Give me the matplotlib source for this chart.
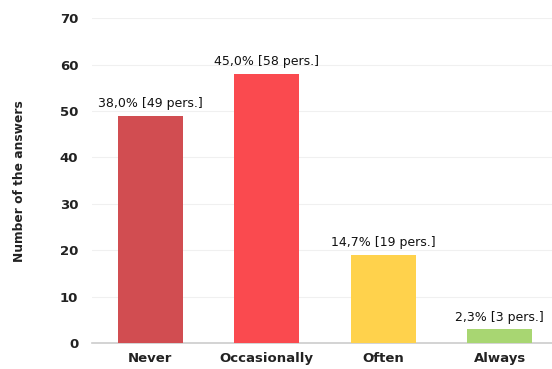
import matplotlib
matplotlib.use("Agg")
import matplotlib.pyplot as plt

categorias = ["Never", "Occasionally", "Often", "Always"]
personas = [49, 58, 19, 3]
porcentajes = ["38,0%", "45,0%", "14,7%", "2,3%"]
colores = ["#d14d51", "#fa4a4f", "#ffd24c", "#a8d672"]

plt.rcParams["font.family"] = ["DejaVu Sans"]

fig = plt.figure(figsize=(5.52, 3.69), dpi=100)
ax = fig.add_axes([0.167, 0.07, 0.833, 0.881])

x = range(len(categorias))
ax.bar(x, personas, width=0.56, color=colores, zorder=3)
for xi, n, p in zip(x, personas, porcentajes):
    ax.text(xi, n + 1.2, "%s [%d pers.]" % (p, n), ha="center", va="bottom",
            fontsize=9, color="#111111")

ax.set_xlim(-0.5, 3.45)
ax.set_ylim(0, 70)
ax.set_yticks(range(0, 71, 10))
ax.set_xticks(list(x))
ax.set_xticklabels(categorias, fontsize=9.5, fontweight="bold", color="#222222")
for lb in ax.get_yticklabels():
    lb.set_fontsize(9.5); lb.set_fontweight("bold"); lb.set_color("#222222")
ax.tick_params(axis="y", length=0, pad=10)
ax.tick_params(axis="x", length=0, pad=6)
ax.set_ylabel("Number of the answers", fontsize=8.8, fontweight="bold",
              color="#222222", labelpad=24)

ax.grid(axis="y", color="#f0f0f0", lw=0.8, zorder=0)
for s in ["top", "right", "left"]:
    ax.spines[s].set_visible(False)
ax.spines["bottom"].set_color("#cccccc")
ax.spines["bottom"].set_linewidth(1.2)

fig.savefig("out.png", dpi=100)
